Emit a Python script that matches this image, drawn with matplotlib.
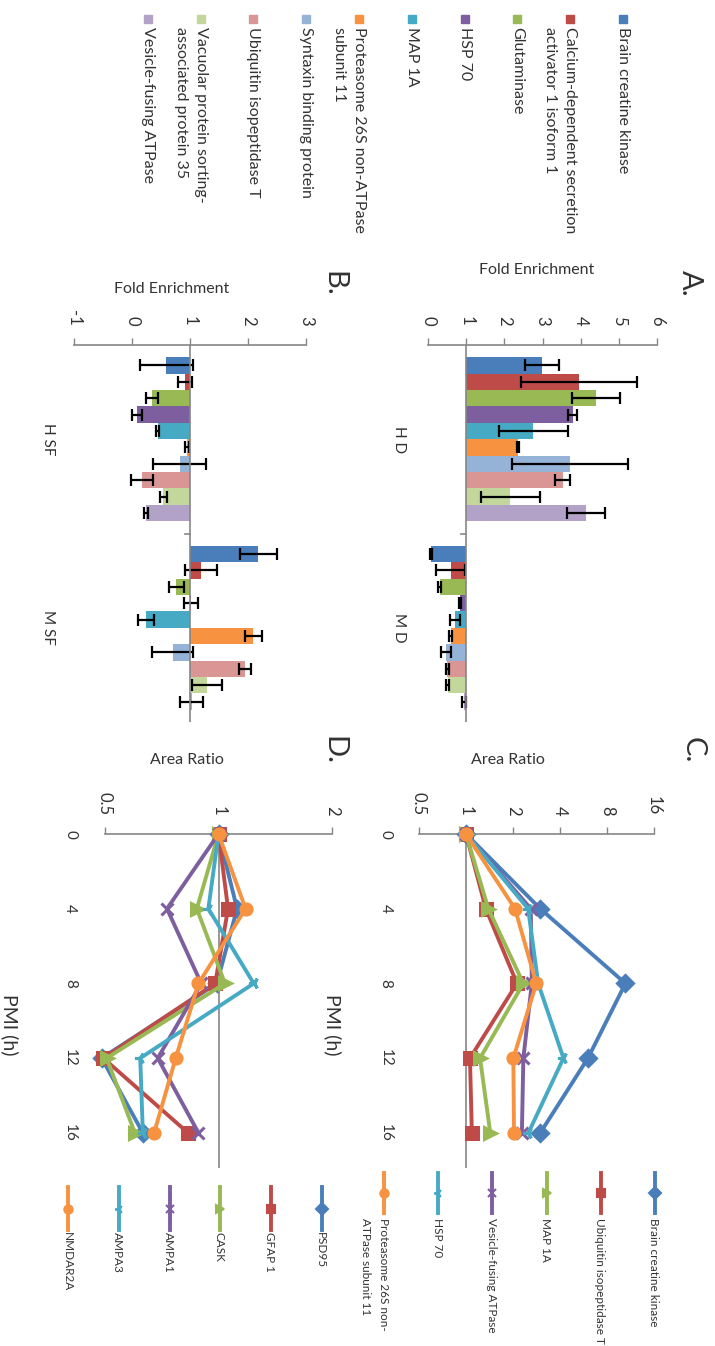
import numpy as np
import matplotlib
matplotlib.use("Agg")
import matplotlib.pyplot as plt
from matplotlib.patches import Rectangle
from matplotlib.ticker import NullLocator

plt.rcParams['font.family'] = ['Lato', 'DejaVu Sans']

W, H = 715, 1346

# panels A and B: fold enrichment per protein (bars start at 1)
proteins = ["Brain creatine kinase",
            "Calcium-dependent secretion\nactivator 1 isoform 1",
            "Glutaminase", "HSP 70", "MAP 1A",
            "Proteasome 26S non-ATPase\nsubunit 11",
            "Syntaxin binding protein", "Ubiquitin isopeptidase T",
            "Vacuolar protein sorting-\nassociated protein 35",
            "Vesicle-fusing ATPase"]
bar_colors = ["#4A7EBB", "#BE4B48", "#98B954", "#7D5FA0", "#46AAC5",
              "#F69240", "#95B3D7", "#D99694", "#C3D69B", "#B3A2C7"]

groups_a = ["H D", "M D"]
hd_vals = [2.98, 3.96, 4.40, 3.79, 2.76, 2.36, 3.73, 3.53, 2.16, 4.14]
hd_err = [0.45, 1.52, 0.62, 0.12, 0.90, 0.02, 1.52, 0.19, 0.78, 0.50]
md_vals = [0.07, 0.59, 0.31, 0.84, 0.71, 0.59, 0.47, 0.51, 0.52, 0.95]
md_err = [0.03, 0.38, 0.04, 0.03, 0.13, 0.03, 0.12, 0.04, 0.04, 0.05]

groups_b = ["H SF", "M SF"]
hsf_vals = [0.59, 0.91, 0.34, 0.09, 0.44, 0.95, 0.82, 0.17, 0.54, 0.24]
hsf_err = [0.46, 0.12, 0.10, 0.09, 0.02, 0.03, 0.46, 0.19, 0.06, 0.03]
msf_vals = [2.18, 1.19, 0.76, 1.02, 0.24, 2.09, 0.70, 1.95, 1.29, 1.03]
msf_err = [0.32, 0.27, 0.13, 0.12, 0.14, 0.15, 0.36, 0.10, 0.26, 0.20]

# panels C and D: area ratio vs post mortem interval
pmi = ["0", "4", "8", "12", "16"]
c_names = ["Brain creatine kinase", "Ubiquitin isopeptidase T", "MAP 1A",
           "Vesicle-fusing ATPase", "HSP 70",
           "Proteasome 26S non-\nATPase subunit 11"]
c_bck = [1, 2.99, 10.5, 6.04, 2.99]
c_uit = [1, 1.34, 2.12, 1.06, 1.09]
c_map1a = [1, 1.39, 2.33, 1.23, 1.43]
c_vfa = [1, 2.60, 2.64, 2.33, 2.28]
c_hsp70 = [1, 2.50, 2.90, 4.21, 2.51]
c_psmd11 = [1, 2.06, 2.82, 2.01, 2.03]

d_names = ["PSD95", "GFAP 1", "CASK", "AMPA1", "AMPA3", "NMDAR2A"]
d_psd95 = [1, 1.12, 0.99, 0.49, 0.63]
d_gfap = [1, 1.06, 0.98, 0.495, 0.83]
d_cask = [1, 0.876, 1.04, 0.505, 0.60]
d_ampa1 = [1, 0.73, 0.90, 0.69, 0.885]
d_ampa3 = [1, 0.94, 1.24, 0.62, 0.63]
d_nmdar2a = [1, 1.18, 0.885, 0.77, 0.675]

c_ticks = [0.5, 1, 2, 4, 8, 16]
d_ticks = [0.5, 1, 2]

line_colors = ["#4A7EBB", "#BE4B48", "#98B954", "#7D5FA0", "#46AAC5", "#F69240"]
line_markers = ["D", "s", ">", "x", (3, 2, 90), "o"]
GRAY = "#868686"
TXT = "#333333"

fig = plt.figure(figsize=(W / 100, H / 100), dpi=100)


def px_axes(x0, y0, x1, y1):
    a = fig.add_axes([x0 / W, 1 - y1 / H, (x1 - x0) / W, (y1 - y0) / H])
    a.patch.set_alpha(0)
    for s in ['left', 'right', 'bottom']:
        a.spines[s].set_visible(False)
    a.spines['top'].set_color(GRAY)
    a.spines['top'].set_linewidth(1.2)
    a.xaxis.tick_top()
    return a


def bar_panel(ax, groups, vals_list, err_list, lo, hi, cat_pad, tick_d):
    nb = len(proteins)
    bw = 1 / 11.5
    offs = (np.arange(nb) - (nb - 1) / 2) * bw
    for g, (vals, errs) in enumerate(zip(vals_list, err_list)):
        ax.barh(g + 0.5 + offs, np.array(vals) - 1, height=bw, left=1,
                color=bar_colors, xerr=errs, zorder=2,
                error_kw=dict(ecolor='black', elinewidth=1.6, capsize=4, capthick=1.6))
    ax.axvline(1, color=GRAY, lw=1.2, zorder=3)
    ax.plot([1 - tick_d, 1], [1, 1], color=GRAY, lw=1.2, zorder=3)
    ax.set_xlim(lo, hi)
    ax.set_ylim(2, 0)
    ticks = np.arange(lo, hi + 1)
    ax.set_xticks(ticks, [str(int(t)) for t in ticks])
    ax.set_yticks([0.5, 1.5], groups)
    ax.tick_params(axis='x', direction='out', length=5, width=1, color=GRAY,
                   pad=9, labelsize=12, labelcolor=TXT, labelrotation=-90)
    ax.tick_params(axis='y', length=0, pad=cat_pad, labelsize=11,
                   labelcolor=TXT, labelrotation=-90)
    for t in ax.get_yticklabels():
        t.set_va('center')


def line_panel(ax, series, ticks, cat_pad):
    cats = np.arange(len(pmi))
    for vals, col, mk in zip(series, line_colors, line_markers):
        ax.plot(vals, cats, color=col, lw=2.8, marker=mk, ms=8, mew=2.2,
                mfc=col, mec=col, clip_on=False, zorder=3)
    ax.set_xscale('log', base=2)
    ax.set_xlim(ticks[0], ticks[-1])
    ax.set_ylim(4.47, 0)
    ax.axvline(1, color=GRAY, lw=1.2, zorder=1)
    ax.set_xticks(ticks, [f"{t:g}" for t in ticks])
    ax.xaxis.set_minor_locator(NullLocator())
    ax.set_yticks(cats, pmi)
    ax.tick_params(axis='x', direction='out', length=5, width=1, color=GRAY,
                   pad=8.5, labelsize=12, labelcolor=TXT, labelrotation=-90)
    ax.tick_params(axis='y', length=0, pad=cat_pad, labelsize=11,
                   labelcolor=TXT, labelrotation=-90)
    for t in ax.get_yticklabels():
        t.set_va('center')


ax_a = px_axes(428, 345, 657, 722)
bar_panel(ax_a, groups_a, [hd_vals, md_vals], [hd_err, md_err], 0, 6, 16, 0.13)

ax_b = px_axes(74, 345, 306, 722)
bar_panel(ax_b, groups_b, [hsf_vals, msf_vals], [hsf_err, msf_err], -1, 3, 14, 0.09)

ax_c = px_axes(419, 834, 654, 1168)
line_panel(ax_c, [c_bck, c_uit, c_map1a, c_vfa, c_hsp70, c_psmd11], c_ticks, 19)

ax_d = px_axes(105, 834, 332, 1168)
line_panel(ax_d, [d_psd95, d_gfap, d_cask, d_ampa1, d_ampa3, d_nmdar2a], d_ticks, 20)

# overlay in pixel coordinates for legends and free text
ov = fig.add_axes([0, 0, 1, 1])
ov.set_xlim(0, W)
ov.set_ylim(H, 0)
ov.axis('off')
ov.patch.set_alpha(0)

# legend of panels A/B
leg_x = 623 - 52.8 * np.arange(len(proteins))
for x, name, col in zip(leg_x, proteins, bar_colors):
    ov.add_patch(Rectangle((x - 4, 15), 8, 8, color=col))
    for i, line in enumerate(name.split("\n")):
        ov.text(x - 20 * i, 27, line, rotation=-90, ha='center', va='top',
                fontsize=11.5, color=TXT)


def line_legend(names, x0, step, y0, y1, y_text):
    xs = x0 - step * np.arange(len(names))
    for x, name, col, mk in zip(xs, names, line_colors, line_markers):
        ov.plot([x, x], [y0, y1], color=col, lw=2.8)
        ov.plot([x], [(y0 + y1) / 2], marker=mk, color=col, ms=6, mew=1.5)
        for i, line in enumerate(name.split("\n")):
            ov.text(x - 1 - 17 * i, y_text, line, rotation=-90, ha='center',
                    va='top', fontsize=8.5, color=TXT)


line_legend(c_names, 655, 54.2, 1173, 1213, 1218)
line_legend(d_names, 321.7, 50.7, 1187, 1230, 1232)

# panel letters and axis titles
for lab, x, y in [("A.", 690, 283), ("B.", 333, 284), ("C.", 693, 750), ("D.", 333, 750)]:
    ov.text(x, y, lab, rotation=-90, ha='center', va='center', fontsize=21, color=TXT)
for lab, x, y in [("Fold Enrichment", 536.7, 270), ("Fold Enrichment", 171.5, 289),
                  ("Area Ratio", 507.5, 760), ("Area Ratio", 186.5, 760)]:
    ov.text(x, y, lab, ha='center', va='center', fontsize=11.5, color=TXT)
for x in [333, 10]:
    ov.text(x, 1025, "PMI (h)", rotation=-90, ha='center', va='center', fontsize=14, color=TXT)

fig.savefig("out.png", dpi=100)
